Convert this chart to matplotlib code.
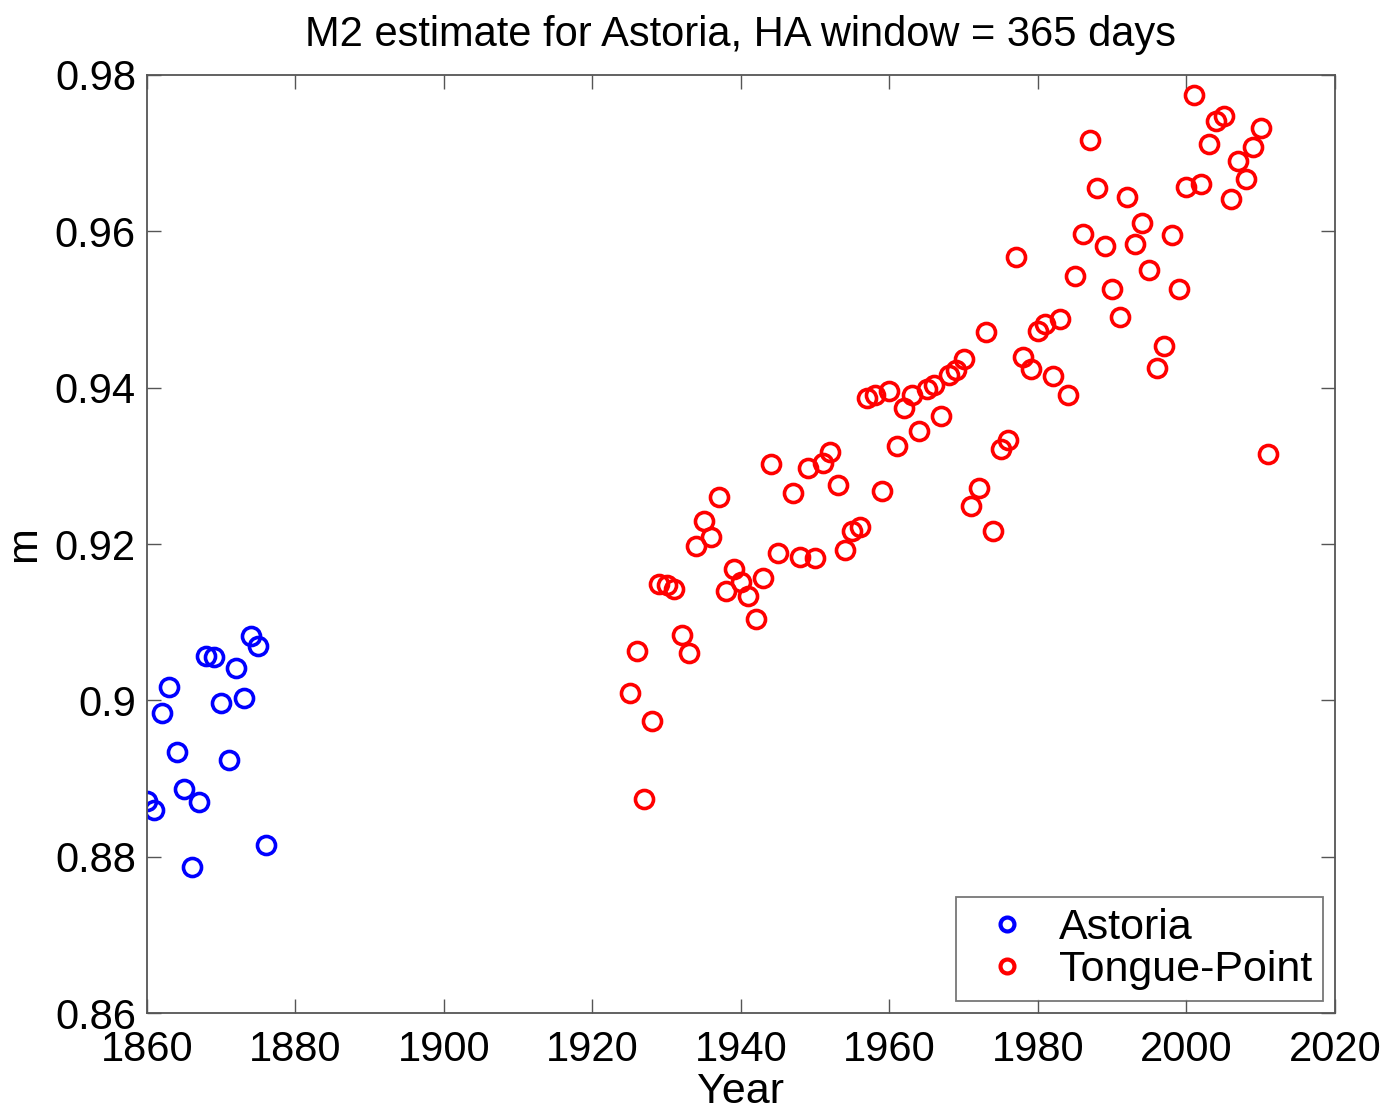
import matplotlib
matplotlib.use("Agg")
import matplotlib.pyplot as plt

astoria_years = list(range(1860, 1877))
astoria_m = [0.8871, 0.8860, 0.8984, 0.9017, 0.8934, 0.8887, 0.8787, 0.8870,
             0.9057, 0.9055, 0.8997, 0.8924, 0.9041, 0.9003, 0.9082, 0.9070, 0.8815]

tp_years = list(range(1925, 1946)) + list(range(1947, 2012))
tp_m = [0.9009, 0.9063, 0.8874, 0.8974, 0.9149, 0.9148, 0.9142, 0.9084, 0.9061, 0.9197,
        0.9229, 0.9209, 0.9260, 0.9140, 0.9168, 0.9151, 0.9133, 0.9104, 0.9157, 0.9302,
        0.9189,
        0.9265, 0.9183, 0.9297, 0.9182, 0.9304, 0.9318, 0.9275, 0.9192, 0.9217, 0.9222,
        0.9387, 0.9391, 0.9268, 0.9396, 0.9325, 0.9374, 0.9391, 0.9345, 0.9398, 0.9403,
        0.9364, 0.9416, 0.9423, 0.9437, 0.9249, 0.9272, 0.9471, 0.9217, 0.9322, 0.9333,
        0.9567, 0.9439, 0.9424, 0.9473, 0.9481, 0.9415, 0.9488, 0.9391, 0.9543, 0.9597,
        0.9717, 0.9655, 0.9581, 0.9526, 0.9490, 0.9644, 0.9584, 0.9611, 0.9551, 0.9425,
        0.9453, 0.9595, 0.9526, 0.9657, 0.9774, 0.9661, 0.9712, 0.9741, 0.9748, 0.9641,
        0.9690, 0.9667, 0.9708, 0.9732, 0.9315]

x_ticks = [1860, 1880, 1900, 1920, 1940, 1960, 1980, 2000, 2020]
y_ticks = [0.86, 0.88, 0.9, 0.92, 0.94, 0.96, 0.98]
y_ticklabels = ["0.86", "0.88", "0.9", "0.92", "0.94", "0.96", "0.98"]

plt.rcParams['font.family'] = ['Liberation Sans', 'DejaVu Sans']

fig = plt.figure(figsize=(13.88, 11.11), dpi=100)
ax = fig.add_axes([0.1059, 0.0882, 0.8559, 0.8443])

ax.plot(astoria_years, astoria_m, linestyle='none', marker='o', markersize=13,
        markerfacecolor='none', markeredgecolor='#0000ff', markeredgewidth=2.6, label='Astoria')
ax.plot(tp_years, tp_m, linestyle='none', marker='o', markersize=13,
        markerfacecolor='none', markeredgecolor='#ff0000', markeredgewidth=2.6, label='Tongue-Point')

ax.set_xlim(1860, 2020)
ax.set_ylim(0.86, 0.98)
ax.set_xticks(x_ticks)
ax.set_xticklabels([str(t) for t in x_ticks])
ax.set_yticks(y_ticks)
ax.set_yticklabels(y_ticklabels)
ax.tick_params(direction='in', length=10, width=1, colors='#555555', labelcolor='black',
               labelsize=30, top=True, right=True)
ax.tick_params(axis='x', pad=12)
ax.tick_params(axis='y', pad=8)
for s in ax.spines.values():
    s.set_color('#555555')
    s.set_linewidth(1.3)

ax.set_title('M2 estimate for Astoria, HA window = 365 days', fontsize=30, pad=21)
ax.set_xlabel('Year', fontsize=31, labelpad=2)
ax.set_ylabel('m', fontsize=31, labelpad=8)

leg = ax.legend(loc='lower right', fontsize=31, frameon=True, fancybox=False,
                edgecolor='#555555', borderpad=0.25, handletextpad=0.25,
                labelspacing=0.05, handlelength=1.9, borderaxespad=0.28)
leg.get_frame().set_linewidth(1.3)
for h in leg.legend_handles:
    h.set_markersize(10)
    h.set_markeredgewidth(3)

fig.savefig('out.png', dpi=100, facecolor='white')
